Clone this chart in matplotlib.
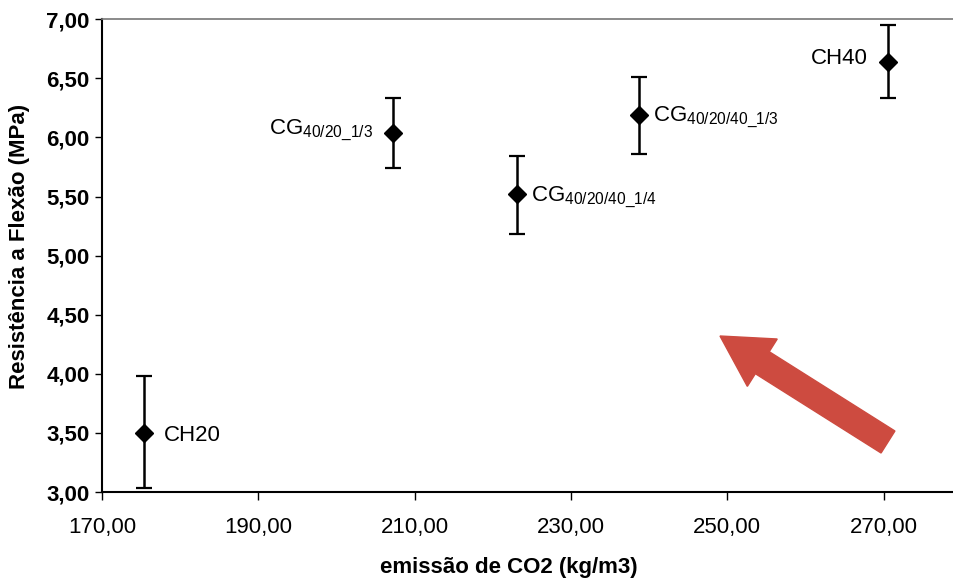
import matplotlib
matplotlib.use("Agg")
import matplotlib.pyplot as plt
from matplotlib.ticker import FuncFormatter, MultipleLocator
from matplotlib.patches import FancyArrow

plt.rcParams['font.family'] = ['Liberation Sans', 'DejaVu Sans']
plt.rcParams['mathtext.default'] = 'regular'

# === dados ===
misturas = ["CH20", "CG40/20_1/3", "CG40/20/40_1/4", "CG40/20/40_1/3", "CH40"]
rotulos = [
    "CH20",
    r"CG$_{40/20\_1/3}$",
    r"CG$_{40/20/40\_1/4}$",
    r"CG$_{40/20/40\_1/3}$",
    "CH40",
]
emissao_co2 = [175.4, 207.2, 223.1, 238.7, 270.5]
resistencia = [3.50, 6.04, 5.52, 6.19, 6.64]
erro_inf = [0.47, 0.30, 0.34, 0.33, 0.31]
erro_sup = [0.48, 0.29, 0.32, 0.32, 0.31]
xticks = [170, 190, 210, 230, 250, 270]

fig = plt.figure(figsize=(9.54, 5.82), dpi=100)
ax = fig.add_axes([0.107, 0.1546, 0.893, 0.8124])

ax.errorbar(emissao_co2, resistencia, yerr=[erro_inf, erro_sup],
            fmt='D', color='black', markersize=9, elinewidth=1.8,
            capsize=6, capthick=1.6, zorder=3)

# rótulos das misturas (esquerda / direita do ponto)
offsets = [(14, -2), (-14, 2), (10, -2), (10, -2), (-14, 2)]
for x, y, txt, off in zip(emissao_co2, resistencia, rotulos, offsets):
    ax.annotate(txt, (x, y), xytext=off, textcoords='offset points',
                ha='left' if off[0] > 0 else 'right', va='center', fontsize=16)

ax.set_xlim(170, 279)
ax.set_ylim(3.0, 7.0)
ax.set_xticks(xticks)
ax.yaxis.set_major_locator(MultipleLocator(0.5))
virgula = FuncFormatter(lambda v, p: f"{v:.2f}".replace('.', ','))
ax.xaxis.set_major_formatter(virgula)
ax.yaxis.set_major_formatter(virgula)

ax.tick_params(axis='y', direction='out', length=5, width=1, pad=4, labelsize=16)
ax.tick_params(axis='x', direction='out', length=6, width=1, pad=12, labelsize=16)
for t in ax.get_yticklabels():
    t.set_fontweight('bold')

ax.spines['right'].set_visible(False)
ax.spines['top'].set_color('#777777')
ax.spines['top'].set_linewidth(1.2)
ax.spines['left'].set_linewidth(1.5)
ax.spines['bottom'].set_linewidth(1.5)

ax.set_ylabel("Resistência a Flexão (MPa)", fontsize=16, fontweight='bold')
ax.yaxis.set_label_coords(-0.085, 0.52)
ax.set_xlabel("emissão de CO2 (kg/m3)", fontsize=16, fontweight='bold')
ax.xaxis.set_label_coords(0.478, -0.138)

# seta vermelha (em polegadas para manter a forma)
seta = FancyArrow(8.88, 1.40, -1.68, 1.06, width=0.26, head_width=0.56,
                  head_length=0.50, length_includes_head=True,
                  color='#CD4B40', transform=fig.dpi_scale_trans, zorder=4)
fig.patches.append(seta)

fig.savefig("out.png", dpi=100)
